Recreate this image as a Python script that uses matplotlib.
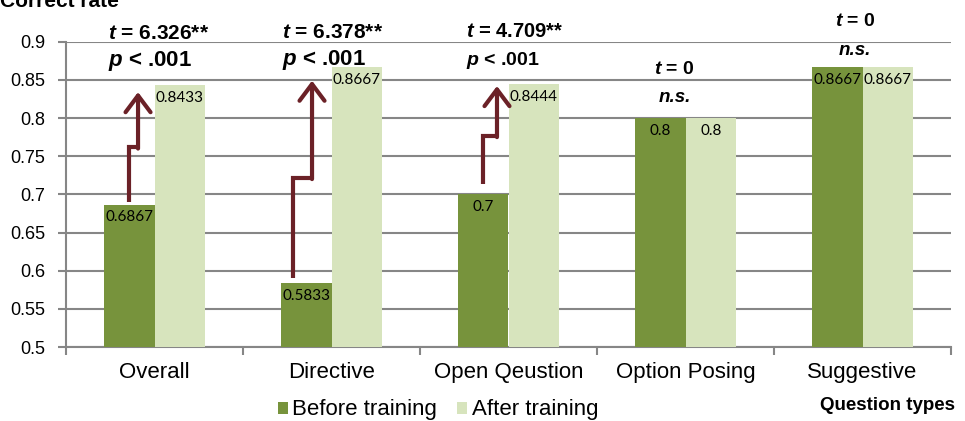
import numpy as np
import matplotlib
matplotlib.use("Agg")
import matplotlib.pyplot as plt
from matplotlib.patches import FancyArrowPatch

plt.rcParams['font.family'] = ['Liberation Sans', 'DejaVu Sans']
plt.rcParams['mathtext.fontset'] = 'custom'
plt.rcParams['mathtext.bfit'] = 'Liberation Sans:italic:bold'
plt.rcParams['mathtext.it'] = 'Liberation Sans:italic'
plt.rcParams['mathtext.rm'] = 'Liberation Sans'

# data
categories = ['Overall', 'Directive', 'Open Qeustion', 'Option Posing', 'Suggestive']
before = [0.6867, 0.5833, 0.7, 0.8, 0.8667]
after = [0.8433, 0.8667, 0.8444, 0.8, 0.8667]
series_names = ['Before training', 'After training']
t_values = ['6.326**', '6.378**', '4.709**', '0', '0']
p_values = ['< .001', '< .001', '< .001', 'n.s.', 'n.s.']

DARK = '#77933C'
LIGHT = '#D7E4BD'
GRID = '#868686'
ARROW = '#6B2127'

fig = plt.figure(figsize=(9.65, 4.21), dpi=100)
ax = fig.add_axes([66/965, 1-347/421, 885/965, 305.3/421])

x = np.arange(len(categories))
w = 0.285
b1 = ax.bar(x - w/2, before, w, color=DARK, label=series_names[0], zorder=3)
b2 = ax.bar(x + w/2, after, w, color=LIGHT, label=series_names[1], zorder=3)

# value labels inside top of bars
for bars, vals in [(b1, before), (b2, after)]:
    for r, v in zip(bars, vals):
        ax.annotate('{:g}'.format(v), (r.get_x() + r.get_width()/2, v),
                    xytext=(0, -4), textcoords='offset points',
                    ha='center', va='top', fontsize=11, family='Lato', zorder=5)

ax.set_ylim(0.5, 0.9)
ax.set_xlim(-0.5, len(categories) - 0.5)
ax.set_yticks(np.arange(0.5, 0.9001, 0.05))
ax.set_yticklabels(['0.5', '0.55', '0.6', '0.65', '0.7', '0.75', '0.8', '0.85', '0.9'])
ax.yaxis.grid(True, color=GRID, lw=1.5, zorder=0)
ax.set_axisbelow(True)

ax.set_xticks(x)
ax.set_xticklabels(categories, fontsize=16)
ax.set_xticks(np.arange(-0.5, len(categories)), minor=True)
ax.tick_params(axis='x', which='major', length=0, pad=11)
ax.tick_params(axis='x', which='minor', length=6, width=1.5, color=GRID)
ax.tick_params(axis='y', length=6, width=1.5, color=GRID, labelsize=13, pad=9)

for s in ['top', 'right']:
    ax.spines[s].set_visible(False)
for s in ['left', 'bottom']:
    ax.spines[s].set_color(GRID)
    ax.spines[s].set_linewidth(1.5)

# stepped arrows before -> after
arrow_paths = {
    0: [(-0.144, 0.690), (-0.144, 0.762), (-0.093, 0.762), (-0.093, 0.834)],
    1: [(-0.218, 0.590), (-0.218, 0.722), (-0.110, 0.722), (-0.110, 0.849)],
    2: [(-0.144, 0.714), (-0.144, 0.777), (-0.065, 0.777), (-0.065, 0.842)],
}
for i, pts in arrow_paths.items():
    xs = [i + p[0] for p in pts]
    ys = [p[1] for p in pts]
    ax.plot(xs[:3], ys[:3], color=ARROW, lw=3, solid_joinstyle='miter',
            solid_capstyle='butt', zorder=4)
    ax.add_patch(FancyArrowPatch((xs[2], ys[2] - 0.002), (xs[3], ys[3]),
                                 arrowstyle='->,head_length=0.6,head_width=0.45',
                                 mutation_scale=20, lw=3, color=ARROW,
                                 shrinkA=0, shrinkB=0, zorder=4))

# t / p annotations
ann = [
    (-0.263, 0.904, 0.8685, 15, 16),
    (0.720, 0.905, 0.870, 15, 16),
    (1.760, 0.9066, 0.870, 14.5, 14),
]
for i, (xl, yt, yp, ft, fp) in enumerate(ann):
    ax.text(xl, yt, r'$\mathbfit{t}$ = ' + t_values[i], fontsize=ft,
            fontweight='bold', ha='left', va='baseline')
    ax.text(xl, yp, r'$\mathbfit{p}$ ' + p_values[i], fontsize=fp,
            fontweight='bold', ha='left', va='baseline')

ns_ann = [(2.938, 0.858, 0.821), (3.958, 0.920, 0.883)]
for k, (xc, yt, yp) in enumerate(ns_ann):
    i = 3 + k
    ax.text(xc, yt, r'$\mathbfit{t}$ = ' + t_values[i], fontsize=14,
            fontweight='bold', ha='center', va='baseline')
    ax.text(xc, yp, p_values[i], fontsize=13.5, fontweight='bold',
            fontstyle='italic', ha='center', va='baseline')

fig.text(0.0, 1 - 7/421, 'Correct rate', fontsize=15, fontweight='bold',
         ha='left', va='baseline')
fig.text(955/965, 1 - 406/421, 'Question types', fontsize=13.5,
         fontweight='bold', ha='right', va='center')

fig.legend(handles=[b1, b2], labels=series_names, loc='center',
           bbox_to_anchor=(0.454, 1 - 410/421), ncol=2, frameon=False,
           fontsize=16, handlelength=0.45, handleheight=0.45,
           handletextpad=0.2, columnspacing=0.9, borderpad=0)

fig.savefig('out.png', dpi=100)
